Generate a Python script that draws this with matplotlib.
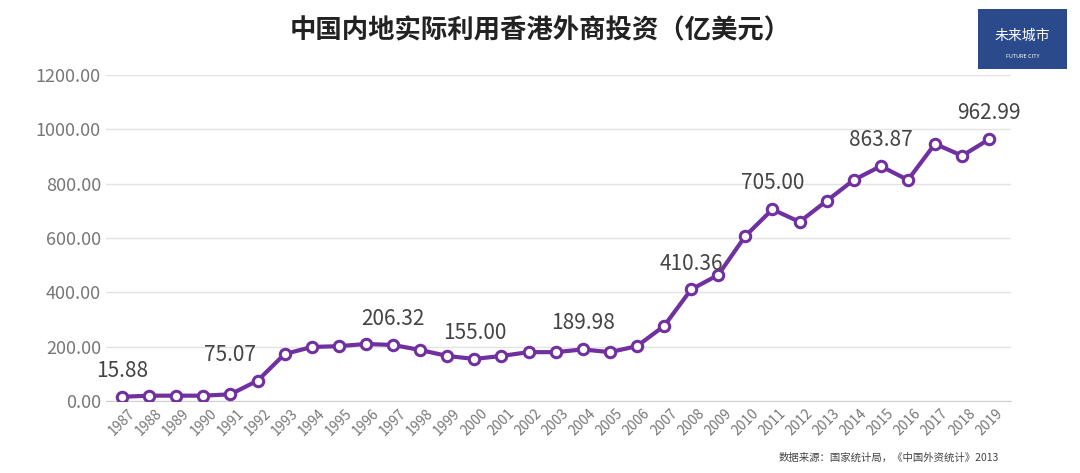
import matplotlib.pyplot as plt
from matplotlib.patches import FancyBboxPatch

plt.rcParams["font.family"] = ["Noto Sans CJK SC", "DejaVu Sans"]

years = list(range(1987, 2020))
values = [15.88, 20, 20, 20, 25, 75.07, 173, 199, 202, 210, 206.32, 188, 166, 155.00,
          166, 180, 180, 189.98, 180, 202, 276, 410.36, 464, 607, 705.00, 659, 736, 813,
          863.87, 813, 946, 902, 962.99]
labeled = {1987: "15.88", 1991: "75.07", 1997: "206.32", 2000: "155.00", 2004: "189.98",
           2008: "410.36", 2011: "705.00", 2015: "863.87", 2019: "962.99"}
# label anchor: where each annotation sits (index of point whose value is used)
label_at = {1987: 1987, 1991: 1992, 1997: 1997, 2000: 2000, 2004: 2004,
            2008: 2008, 2011: 2011, 2015: 2015, 2019: 2019}

fig = plt.figure(figsize=(10.8, 4.73), dpi=100)
ax = fig.add_axes([0.098, 0.152, 0.838, 0.69])
color = "#7030A0"
ax.plot(years, values, color=color, lw=3, marker="o", ms=7.5,
        mfc="white", mec=color, mew=2.2, zorder=3)

for y, txt in labeled.items():
    v = values[years.index(label_at[y])]
    ax.text(y, v + 55, txt, ha="center", va="bottom", fontsize=15, color="#444444")

ax.set_ylim(0, 1200)
ax.set_xlim(1986.4, 2019.8)
ax.set_yticks(range(0, 1201, 200))
ax.set_yticklabels([f"{v:.2f}" for v in range(0, 1201, 200)], fontsize=13, color="#777777")
ax.set_xticks(years)
ax.set_xticklabels([str(y) for y in years], rotation=45, fontsize=10, color="#777777")
ax.grid(axis="y", color="#e3e3e3", lw=1)
ax.set_axisbelow(True)
for s in ["top", "right", "left"]:
    ax.spines[s].set_visible(False)
ax.spines["bottom"].set_color("#d0d0d0")
ax.tick_params(length=0)

fig.text(0.5, 0.935, "中国内地实际利用香港外商投资（亿美元）", ha="center", va="center",
         fontsize=19, fontweight="bold", color="#222222")
fig.text(0.925, 0.025, "数据来源：国家统计局，《中国外资统计》2013", ha="right",
         fontsize=7.5, color="#444444")

box = FancyBboxPatch((0.906, 0.855), 0.082, 0.125, boxstyle="square,pad=0",
                     transform=fig.transFigure, facecolor="#2a4a8c", edgecolor="none")
fig.patches.append(box)
fig.text(0.947, 0.925, "未来城市", ha="center", va="center", fontsize=10, color="white")
fig.text(0.947, 0.88, "FUTURE CITY", ha="center", va="center", fontsize=4, color="white")

fig.savefig("out.png", dpi=100, facecolor="white")
